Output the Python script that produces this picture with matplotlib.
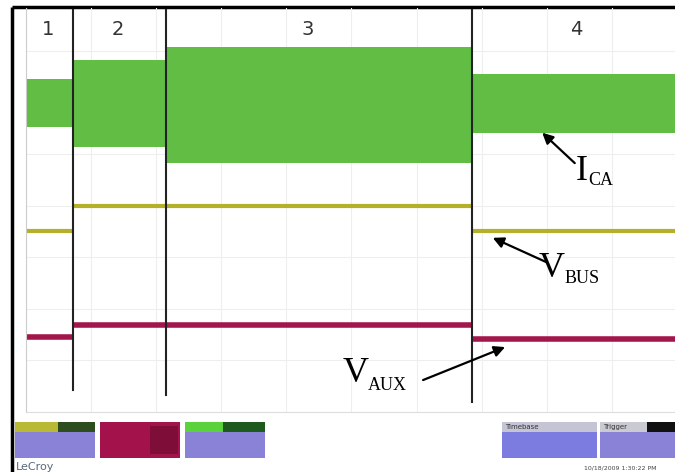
import matplotlib.pyplot as plt
from matplotlib.patches import Rectangle

# scope screen data, in grid divisions (x: time, y: vertical, 0 = bottom of screen)
seg_edges = [0.02, 0.72, 2.15, 6.85, 9.97]
seg_names = ["1", "2", "3", "4"]
seg_label_x = [0.34, 1.41, 4.33, 8.46]
ica_top = [6.47, 6.83, 7.09, 6.56]
ica_bot = [5.53, 5.15, 4.83, 5.42]
vbus = [3.51, 4.00, 4.00, 3.51]
vaux = [1.46, 1.69, 1.69, 1.42]
cursor_x = [0.72, 2.15, 6.85]
cursor_bottom = [0.43, 0.33, 0.19]

green = "#62bd45"
yellow = "#b4b02a"
crimson = "#a3164c"

fig = plt.figure(figsize=(6.75, 4.72), dpi=100)

# background layer in pixel units: frame + status boxes
bg = fig.add_axes([0, 0, 1, 1])
bg.set_xlim(0, 675)
bg.set_ylim(472, 0)
bg.axis("off")
bg.plot([12, 675], [7, 7], color="k", lw=2.5, solid_capstyle="butt")
bg.plot([12, 12], [7, 472], color="k", lw=2.5, solid_capstyle="butt")

def box(x0, x1, top_parts, low_color):
    for a, b, c in top_parts:
        bg.add_patch(Rectangle((a, 422), b - a, 10, color=c, lw=0))
    bg.add_patch(Rectangle((x0, 432), x1 - x0, 26, color=low_color, lw=0))

box(15, 95, [(15, 58, "#b9b935"), (58, 95, "#2e4d1e")], "#8a82d6")
bg.add_patch(Rectangle((100, 422), 80, 36, color="#a3124a", lw=0))
bg.add_patch(Rectangle((150, 426), 28, 28, color="#5a0a28", lw=0, alpha=0.5))
box(185, 265, [(185, 223, "#5ad23c"), (223, 265, "#1e5a1e")], "#8a82d6")
box(502, 597, [(502, 597, "#c4c4d4")], "#7c7ce0")
box(600, 675, [(600, 647, "#cacad2"), (647, 675, "#111111")], "#8a82d6")
bg.text(505, 427, "Timebase", fontsize=5, color="#333", va="center")
bg.text(603, 427, "Trigger", fontsize=5, color="#333", va="center")
bg.text(16, 467, "LeCroy", fontsize=8, color="#5a6a7a", va="center")
bg.text(620, 468, "10/18/2009 1:30:22 PM", fontsize=4.5, color="#444", va="center", ha="center")

# scope screen
ax = fig.add_axes([26 / 675, 60 / 472, 649 / 675, 404 / 472])
ax.set_facecolor("none")
ax.set_xlim(0, 9.97)
ax.set_ylim(0, 7.84)
for v in range(0, 11):
    ax.axvline(v, color="#eeeeee", lw=0.8, zorder=0)
for h in range(0, 8):
    ax.axhline(h, color="#eeeeee", lw=0.8, zorder=0)
ax.set_xticks([])
ax.set_yticks([])
for s in ["top", "right"]:
    ax.spines[s].set_visible(False)
ax.spines["left"].set_color("#cccccc")
ax.spines["bottom"].set_color("#dddddd")

ax.fill_between(seg_edges, ica_top + [ica_top[-1]], ica_bot + [ica_bot[-1]],
                step="post", color=green, lw=0, zorder=2)
ax.hlines(vbus, seg_edges[:-1], seg_edges[1:], color=yellow, lw=3, zorder=2)
ax.hlines(vaux, seg_edges[:-1], seg_edges[1:], color=crimson, lw=4, zorder=2)

for x, yb in zip(cursor_x, cursor_bottom):
    ax.plot([x, x], [yb, 7.81], color="#222", lw=1.5, zorder=3)

for xc, name in zip(seg_label_x, seg_names):
    ax.text(xc, 7.42, name, ha="center", va="center", fontsize=14, color="#333")

serif = "Liberation Serif"
arrow = dict(arrowstyle="-|>", color="k", lw=1.6, mutation_scale=16, shrinkA=0, shrinkB=0)
ax.annotate("", xy=(7.93, 5.42), xytext=(8.43, 4.83), arrowprops=arrow, zorder=4)
ax.text(8.44, 4.505, "I", family=serif, fontsize=26, va="baseline")
ax.text(8.63, 4.41, "CA", family=serif, fontsize=13, va="baseline")

ax.annotate("", xy=(7.17, 3.38), xytext=(7.99, 2.91), arrowprops=arrow, zorder=4)
ax.text(7.88, 2.62, "V", family=serif, fontsize=26, va="baseline")
ax.text(8.27, 2.50, "BUS", family=serif, fontsize=13, va="baseline")

ax.annotate("", xy=(7.36, 1.26), xytext=(6.10, 0.62), arrowprops=arrow, zorder=4)
ax.text(4.86, 0.58, "V", family=serif, fontsize=26, va="baseline")
ax.text(5.25, 0.43, "AUX", family=serif, fontsize=13, va="baseline")

fig.savefig("out.png", dpi=100)
